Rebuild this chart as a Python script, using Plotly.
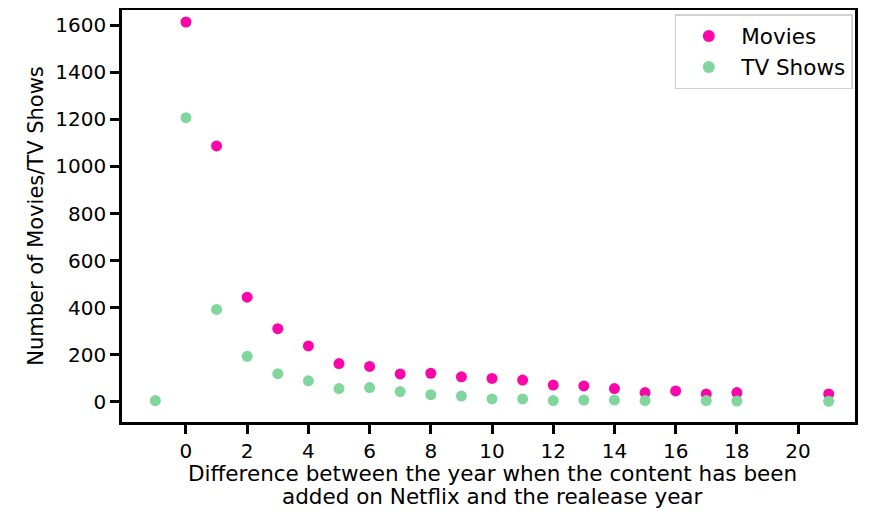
import plotly.graph_objects as go

movies_x = [0, 1, 2, 3, 4, 5, 6, 7, 8, 9, 10, 11, 12, 13, 14, 15, 16, 17, 18, 21]
movies_y = [1613, 1087, 445, 311, 238, 163, 151, 119, 122, 107, 100, 93, 72, 68, 57, 40, 47, 34, 40, 34]

tv_x = [-1, 0, 1, 2, 3, 4, 5, 6, 7, 8, 9, 10, 11, 12, 13, 14, 15, 17, 18, 21]
tv_y = [6, 1207, 393, 194, 120, 90, 57, 61, 44, 31, 25, 13, 13, 6, 8, 8, 6, 6, 4, 3]

x_ticks = [0, 2, 4, 6, 8, 10, 12, 14, 16, 18, 20]
y_ticks = [0, 200, 400, 600, 800, 1000, 1200, 1400, 1600]

x_title_lines = ["Difference between the year when the content has been",
                 "added on Netflix and the realease year"]
y_title = "Number of Movies/TV Shows"

FONT = "DejaVu Sans"

fig = go.Figure()
fig.add_trace(go.Scatter(x=movies_x, y=movies_y, mode="markers", name="Movies",
                         marker=dict(color="#fb07a9", size=11, line=dict(width=0))))
fig.add_trace(go.Scatter(x=tv_x, y=tv_y, mode="markers", name="TV Shows",
                         marker=dict(color="#80d69c", size=11, line=dict(width=0))))

for txt, yy in zip(x_title_lines, [-0.126, -0.180]):
    fig.add_annotation(text=txt, xref="paper", yref="paper", x=0.505, y=yy,
                       xanchor="center", yanchor="middle", showarrow=False,
                       font=dict(size=21.5, family=FONT, color="black"))

fig.update_layout(
    width=867, height=508,
    margin=dict(l=114, r=20, t=2, b=94),
    paper_bgcolor="white", plot_bgcolor="white",
    font=dict(family=FONT, size=20, color="black"),
    showlegend=True,
    legend=dict(x=0.997, y=0.99, xanchor="right", yanchor="top",
                bgcolor="rgba(255,255,255,0.9)", bordercolor="#d0d0d0", borderwidth=1.5,
                font=dict(size=21.5), itemsizing="constant", itemwidth=55, tracegroupgap=2),
    xaxis=dict(range=[-2.09, 21.86], tickmode="array", tickvals=x_ticks,
               ticks="outside", ticklen=9, tickwidth=3, tickcolor="black",
               tickfont=dict(size=20),
               showgrid=False, zeroline=False, showline=True, linecolor="black",
               linewidth=2.5, mirror=True, automargin=False),
    yaxis=dict(range=[-85, 1664], tickmode="array", tickvals=y_ticks,
               ticks="outside", ticklen=9, tickwidth=3, tickcolor="black",
               tickfont=dict(size=20),
               showgrid=False, zeroline=False, showline=True, linecolor="black",
               linewidth=2.5, mirror=True, automargin=False,
               title=dict(text=y_title, font=dict(size=21), standoff=6)),
)

fig.write_html("out.html")
